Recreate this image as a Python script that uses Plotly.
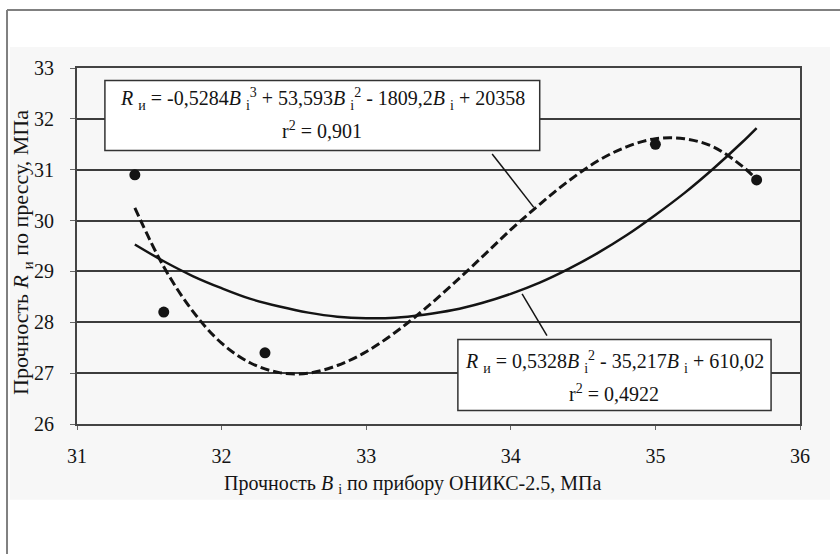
import plotly.graph_objects as go

# measured points
pts_x = [31.4, 31.6, 32.3, 35.0, 35.7]
pts_y = [30.9, 28.2, 27.4, 31.5, 30.8]

# cubic trend line (dashed)
cub_x = [31.4, 31.6, 31.8, 32.0, 32.2, 32.4, 32.6, 32.8, 33.0, 33.2, 33.4, 33.6,
         33.8, 34.0, 34.2, 34.4, 34.6, 34.8, 35.0, 35.2, 35.4, 35.6, 35.7]
cub_y = [30.25, 29.09, 28.22, 27.59, 27.20, 27.01, 27.00, 27.15, 27.42, 27.80, 28.25, 28.75,
         29.28, 29.82, 30.32, 30.78, 31.17, 31.45, 31.61, 31.61, 31.45, 31.07, 30.81]

# quadratic trend line (solid)
quad_x = [31.4, 31.6, 31.8, 32.0, 32.2, 32.4, 32.6, 32.8, 33.0, 33.2, 33.4, 33.6,
          33.8, 34.0, 34.2, 34.4, 34.6, 34.8, 35.0, 35.2, 35.4, 35.6, 35.7]
quad_y = [29.53, 29.20, 28.91, 28.67, 28.46, 28.31, 28.19, 28.11, 28.08, 28.09, 28.15, 28.24,
          28.38, 28.56, 28.78, 29.05, 29.36, 29.71, 30.11, 30.54, 31.02, 31.54, 31.82]

x_ticks = [31, 32, 33, 34, 35, 36]
y_ticks = [26, 27, 28, 29, 30, 31, 32, 33]

eq_cubic = ["<i>R</i> <sub>и</sub> = -0,5284<i>B</i> <sub>i</sub><sup>3</sup> + 53,593<i>B</i> <sub>i</sub><sup>2</sup> - 1809,2<i>B</i> <sub>i</sub> + 20358",
            "r<sup>2</sup> = 0,901"]
eq_quad = ["<i>R</i> <sub>и</sub> = 0,5328<i>B</i> <sub>i</sub><sup>2</sup> - 35,217<i>B</i> <sub>i</sub> + 610,02",
           "r<sup>2</sup> = 0,4922"]
x_title = "Прочность <i>B</i> <sub>i</sub> по прибору ОНИКС-2.5, МПа"
y_title = "Прочность <i>R</i> <sub>и</sub> по прессу, МПа"

FONT = "Liberation Serif"
INK = "#141414"

fig = go.Figure()
fig.add_trace(go.Scatter(x=cub_x, y=cub_y, mode="lines", line_shape="spline",
                         line=dict(color=INK, width=3, dash="9px,4px"), hoverinfo="skip"))
fig.add_trace(go.Scatter(x=quad_x, y=quad_y, mode="lines", line_shape="spline",
                         line=dict(color=INK, width=2.5), hoverinfo="skip"))
fig.add_trace(go.Scatter(x=pts_x, y=pts_y, mode="markers",
                         marker=dict(color=INK, size=11)))

shapes = [
    # page frame
    dict(type="rect", xref="paper", yref="paper", x0=-0.0927, x1=1.0415, y0=-0.213, y1=1.059,
         fillcolor="#f7f7f7", line=dict(width=0), layer="below"),
    dict(type="line", xref="paper", yref="paper", x0=-0.0968, x1=1.06, y0=1.163, y1=1.163,
         line=dict(color="#808080", width=2)),
    dict(type="line", xref="paper", yref="paper", x0=-0.0968, x1=-0.0968, y0=-0.37, y1=1.163,
         line=dict(color="#808080", width=2)),
    # leader lines
    dict(type="line", x0=33.871, y0=31.31, x1=34.159, y1=30.26, line=dict(color=INK, width=1.5)),
    dict(type="line", x0=34.078, y0=28.56, x1=34.25, y1=27.74, line=dict(color=INK, width=1.5)),
    # label boxes
    dict(type="rect", x0=31.193, x1=34.20, y0=31.378, y1=32.754, fillcolor="white",
         line=dict(color="#333333", width=1.5)),
    dict(type="rect", x0=33.634, x1=35.80, y0=26.265, y1=27.66, fillcolor="white",
         line=dict(color="#333333", width=1.5)),
]

ann_font = dict(family=FONT, size=20, color=INK)
annotations = [
    dict(x=(31.193 + 34.20) / 2, y=32.39, text=eq_cubic[0], showarrow=False, font=ann_font,
         xanchor="center", yanchor="middle"),
    dict(x=(31.193 + 34.20) / 2, y=31.78, text=eq_cubic[1], showarrow=False, font=ann_font,
         xanchor="center", yanchor="middle"),
    dict(x=(33.634 + 35.80) / 2, y=27.22, text=eq_quad[0], showarrow=False, font=ann_font,
         xanchor="center", yanchor="middle"),
    dict(x=(33.634 + 35.80) / 2, y=26.60, text=eq_quad[1], showarrow=False, font=ann_font,
         xanchor="center", yanchor="middle"),
    dict(xref="paper", yref="paper", x=(412 - 77) / 723, y=-(484 - 424) / 356,
         xanchor="center", yanchor="middle",
         text=x_title, showarrow=False, font=dict(family=FONT, size=20, color=INK)),
    dict(xref="paper", yref="paper", x=-(77 - 22) / 723, y=1 - (253 - 68) / 356,
         xanchor="center", yanchor="middle",
         text=y_title, showarrow=False, textangle=-90, font=dict(family=FONT, size=22, color=INK)),
]

fig.update_layout(
    width=840, height=554,
    margin=dict(l=77, r=40, t=68, b=130),
    paper_bgcolor="white",
    plot_bgcolor="#b8b8b8",
    showlegend=False,
    shapes=shapes,
    annotations=annotations,
    font=dict(family=FONT, size=20, color=INK),
)
fig.update_xaxes(range=[31, 36], tickvals=x_ticks, showgrid=False, zeroline=False,
                 showline=True, linecolor="#444444", linewidth=2, mirror=True,
                 ticks="outside", ticklen=4, tickcolor="#666666",
                 ticklabelstandoff=9, tickfont=dict(family=FONT, size=20, color=INK))
fig.update_yaxes(range=[26, 33], tickvals=y_ticks, showgrid=True, gridcolor="#3c3c3c", gridwidth=2,
                 zeroline=False, showline=True, linecolor="#444444", linewidth=2, mirror=True,
                 ticks="outside", ticklen=5, tickcolor="#666666",
                 ticklabelstandoff=12, tickfont=dict(family=FONT, size=20, color=INK))

fig.write_html("out.html", config={"displayModeBar": False},
               post_script="document.body.style.margin='0';")
